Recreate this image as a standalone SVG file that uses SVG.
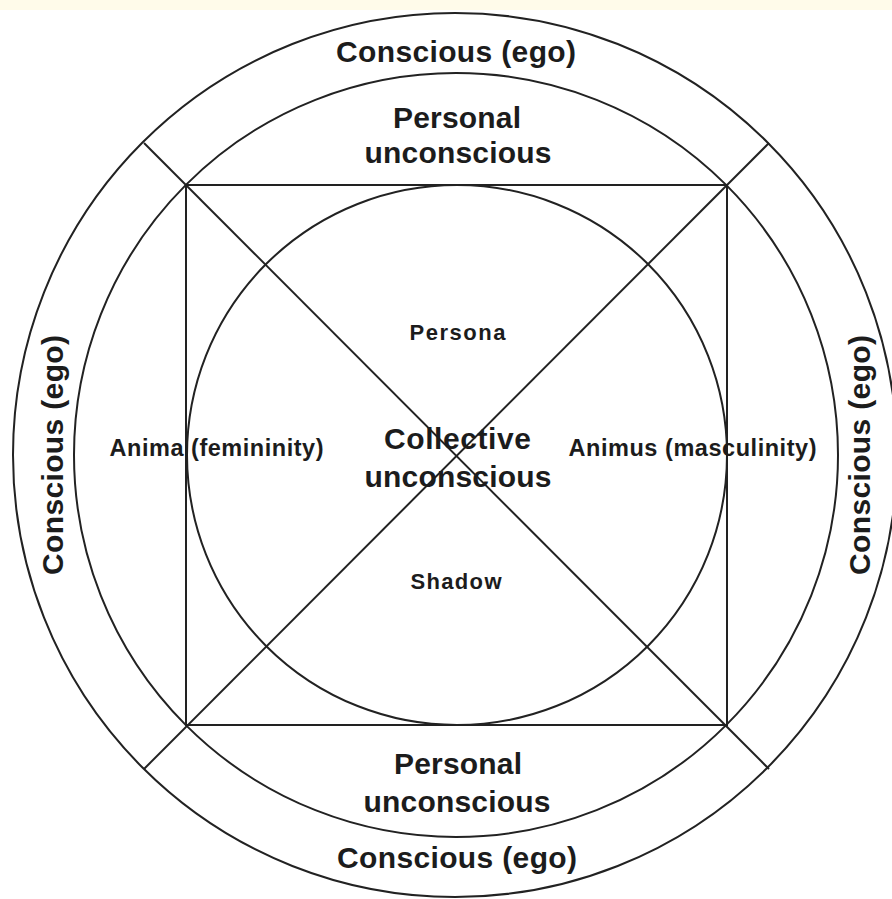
<svg xmlns="http://www.w3.org/2000/svg" width="892" height="899" viewBox="0 0 892 899">
  <style>
    .ln { fill: none; stroke: #222; stroke-width: 2; }
    .t { font-family: "Liberation Sans", Arial, Helvetica, sans-serif; font-weight: bold; fill: #1c1c1c; text-anchor: middle; }
    .big { font-size: 30px; }
    .mid { font-size: 23.5px; }
    .sm { font-size: 22px; }
  </style>
  <rect x="0" y="0" width="892" height="899" fill="#ffffff"/>
  <rect x="0" y="0" width="892" height="10" fill="#fffbea"/>

  <g id="conscious-ring">
    <circle class="ln" cx="455" cy="455" r="442"/>
    <text class="t big" x="456" y="62" textLength="240" lengthAdjust="spacing">Conscious (ego)</text>
    <text class="t big" x="457" y="868" textLength="240" lengthAdjust="spacing">Conscious (ego)</text>
    <text class="t big" transform="translate(63,455) rotate(-90)" x="0" y="0" textLength="240" lengthAdjust="spacing">Conscious (ego)</text>
    <text class="t big" transform="translate(870,455) rotate(-90)" x="0" y="0" textLength="240" lengthAdjust="spacing">Conscious (ego)</text>
  </g>

  <g id="personal-unconscious">
    <circle class="ln" cx="456" cy="455" r="382"/>
    <text class="t big" x="457" y="128" textLength="128" lengthAdjust="spacing">Personal</text>
    <text class="t big" x="458" y="163" textLength="187" lengthAdjust="spacing">unconscious</text>
    <text class="t big" x="458" y="774" textLength="128" lengthAdjust="spacing">Personal</text>
    <text class="t big" x="457" y="812" textLength="187" lengthAdjust="spacing">unconscious</text>
  </g>

  <g id="square">
    <rect class="ln" x="186" y="185" width="541" height="540"/>
  </g>

  <g id="collective-unconscious">
    <circle class="ln" cx="457" cy="455" r="270"/>
  </g>

  <g id="connectors">
    <line class="ln" x1="144" y1="143" x2="769" y2="769"/>
    <line class="ln" x1="769" y1="143" x2="144" y2="769"/>
  </g>

  <g id="labels">
    <text class="t big" x="457.5" y="449" textLength="147" lengthAdjust="spacing">Collective</text>
    <text class="t big" x="458" y="487" textLength="187" lengthAdjust="spacing">unconscious</text>
    <text class="t sm" x="457.5" y="340" textLength="96" lengthAdjust="spacing">Persona</text>
    <text class="t sm" x="456" y="589" textLength="91" lengthAdjust="spacing">Shadow</text>
    <text class="t mid" x="216.5" y="456" textLength="214" lengthAdjust="spacing">Anima (femininity)</text>
    <text class="t mid" x="692.5" y="456" textLength="248" lengthAdjust="spacing">Animus (masculinity)</text>
  </g>
</svg>
